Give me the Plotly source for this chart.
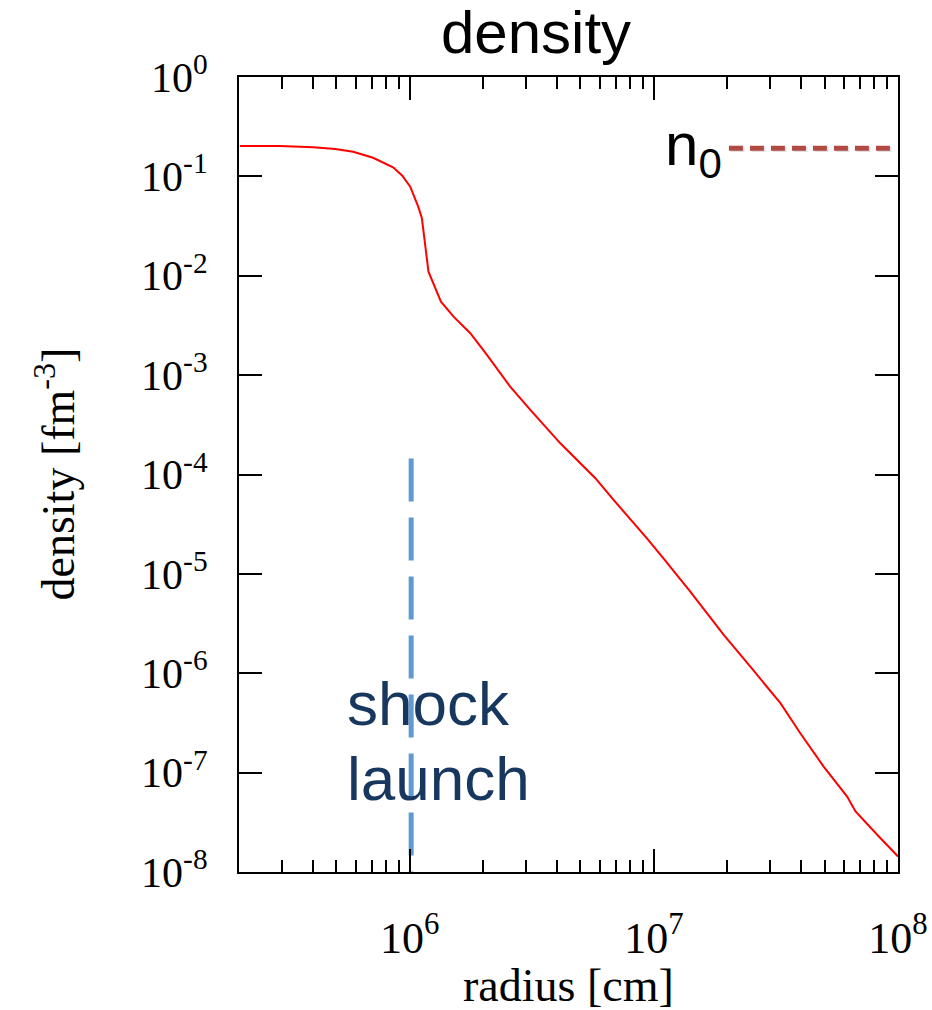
import plotly.graph_objects as go

# ---- data ----
radius_cm = [2.02e5, 2.94e5, 4.03e5, 4.96e5, 5.87e5, 7.08e5, 8.55e5, 9.31e5, 1.005e6, 1.084e6,
             1.122e6, 1.158e6, 1.194e6, 1.343e6, 1.513e6, 1.771e6, 2.072e6, 2.58e6, 3.12e6,
             4.14e6, 5.76e6, 6.84e6, 9.37e6, 1.097e7, 1.41e7, 1.733e7, 1.933e7,
             2.48e7, 3.30e7, 3.98e7, 4.96e7, 6.19e7, 6.70e7, 8.22e7, 1.0e8]
density_fm3 = [0.202, 0.202, 0.196, 0.189, 0.177, 0.154, 0.1235, 0.102, 0.0788, 0.0496,
               0.0379, 0.0196, 0.0110, 0.00548, 0.00388, 0.00264, 0.00160, 7.66e-4, 4.47e-4,
               2.06e-4, 9.18e-5, 5.55e-5, 2.28e-5, 1.42e-5, 6.64e-6, 3.45e-6, 2.43e-6,
               1.17e-6, 5.0e-7, 2.49e-7, 1.15e-7, 5.75e-8, 4.06e-8, 2.37e-8, 1.43e-8]

n0_level = 0.192
n0_x = [2.03e7, 9.35e7]
shock_radius = 1.014e6
shock_y = [1.45e-4, 1.0e-8]

x_tickvals = [1e6, 1e7, 1e8]
x_ticktext = ["10<sup>6</sup>", "10<sup>7</sup>", "10<sup>8</sup>"]
x_minor = [2e5, 3e5, 4e5, 5e5, 6e5, 7e5, 8e5, 9e5,
           2e6, 3e6, 4e6, 5e6, 6e6, 7e6, 8e6, 9e6,
           2e7, 3e7, 4e7, 5e7, 6e7, 7e7, 8e7, 9e7]
y_tickvals = [1e0, 1e-1, 1e-2, 1e-3, 1e-4, 1e-5, 1e-6, 1e-7, 1e-8]
y_ticktext = ["10<sup>0</sup>", "10<sup>-1</sup>", "10<sup>-2</sup>", "10<sup>-3</sup>",
              "10<sup>-4</sup>", "10<sup>-5</sup>", "10<sup>-6</sup>", "10<sup>-7</sup>",
              "10<sup>-8</sup>"]

SERIF = "Liberation Serif, Times New Roman, serif"
SANS = "Liberation Sans, Arial, sans-serif"

fig = go.Figure()

# shock launch line
fig.add_trace(go.Scatter(x=[shock_radius] * 2, y=shock_y, mode="lines",
                         line=dict(color="#5f9bd2", width=5, dash="43px,16px"),
                         hoverinfo="skip", showlegend=False))
# n0 line soft shadow
fig.add_trace(go.Scatter(x=[v * 1.015 for v in n0_x], y=[n0_level * 0.97] * 2, mode="lines",
                         line=dict(color="rgba(0,0,0,0.12)", width=5, dash="14px,7px"),
                         hoverinfo="skip", showlegend=False))
# n0 line
fig.add_trace(go.Scatter(x=n0_x, y=[n0_level] * 2, mode="lines",
                         line=dict(color="#b04a42", width=5, dash="14px,7px"),
                         hoverinfo="skip", showlegend=False))
# density curve
fig.add_trace(go.Scatter(x=radius_cm, y=density_fm3, mode="lines",
                         line=dict(color="#ff0000", width=2),
                         showlegend=False))

L, R, T, B = 239, 34, 77, 138
W, H = 932, 1010
pw, ph = W - L - R, H - T - B


def px(xp):
    return (xp - L) / pw


def py(yp):
    return (H - B - yp) / ph


fig.update_layout(
    width=W, height=H,
    margin=dict(l=L, r=R, t=T, b=B, autoexpand=False),
    paper_bgcolor="white", plot_bgcolor="white",
    showlegend=False,
    xaxis=dict(
        type="log", range=[5.301, 8.0], automargin=False,
        tickmode="array", tickvals=x_tickvals, ticktext=x_ticktext,
        ticks="inside", ticklen=23, tickwidth=2, tickcolor="black",
        minor=dict(tickmode="array", tickvals=x_minor, ticks="inside",
                   ticklen=12, tickwidth=2, tickcolor="black", showgrid=False),
        showline=True, linecolor="black", linewidth=2, mirror="allticks",
        showgrid=False, zeroline=False,
        tickfont=dict(family=SERIF, size=44, color="black"),
        ticklabelstandoff=26,
    ),
    yaxis=dict(
        type="log", range=[-8, 0], automargin=False,
        tickmode="array", tickvals=y_tickvals, ticktext=y_ticktext,
        ticks="inside", ticklen=23, tickwidth=2, tickcolor="black",
        showline=True, linecolor="black", linewidth=2, mirror="allticks",
        showgrid=False, zeroline=False,
        tickfont=dict(family=SERIF, size=42, color="black"),
        ticklabelstandoff=21,
    ),
    annotations=[
        dict(text="density", xref="paper", yref="paper", x=px(536), y=py(68),
             xanchor="center", yanchor="bottom", showarrow=False,
             font=dict(family=SANS, size=60, color="black")),
        dict(text="n<sub>0</sub>", xref="paper", yref="paper", x=px(663), y=py(109),
             xanchor="left", yanchor="top", showarrow=False,
             font=dict(family=SANS, size=60, color="black")),
        dict(text="shock", xref="paper", yref="paper", x=px(345), y=py(667),
             xanchor="left", yanchor="top", align="left", showarrow=False,
             font=dict(family=SANS, size=62, color="#17375e")),
        dict(text="launch", xref="paper", yref="paper", x=px(345), y=py(742),
             xanchor="left", yanchor="top", align="left", showarrow=False,
             font=dict(family=SANS, size=62, color="#17375e")),
        dict(text="radius [cm]", xref="paper", yref="paper", x=px(568), y=py(958),
             xanchor="center", yanchor="top", showarrow=False,
             font=dict(family=SERIF, size=46, color="black")),
        dict(text="density [fm<sup>-3</sup>]", xref="paper", yref="paper", x=px(54), y=0.5,
             xanchor="center", yanchor="middle", textangle=-90, showarrow=False,
             font=dict(family=SERIF, size=46, color="black")),
    ],
)

fig.write_html("out.html")
